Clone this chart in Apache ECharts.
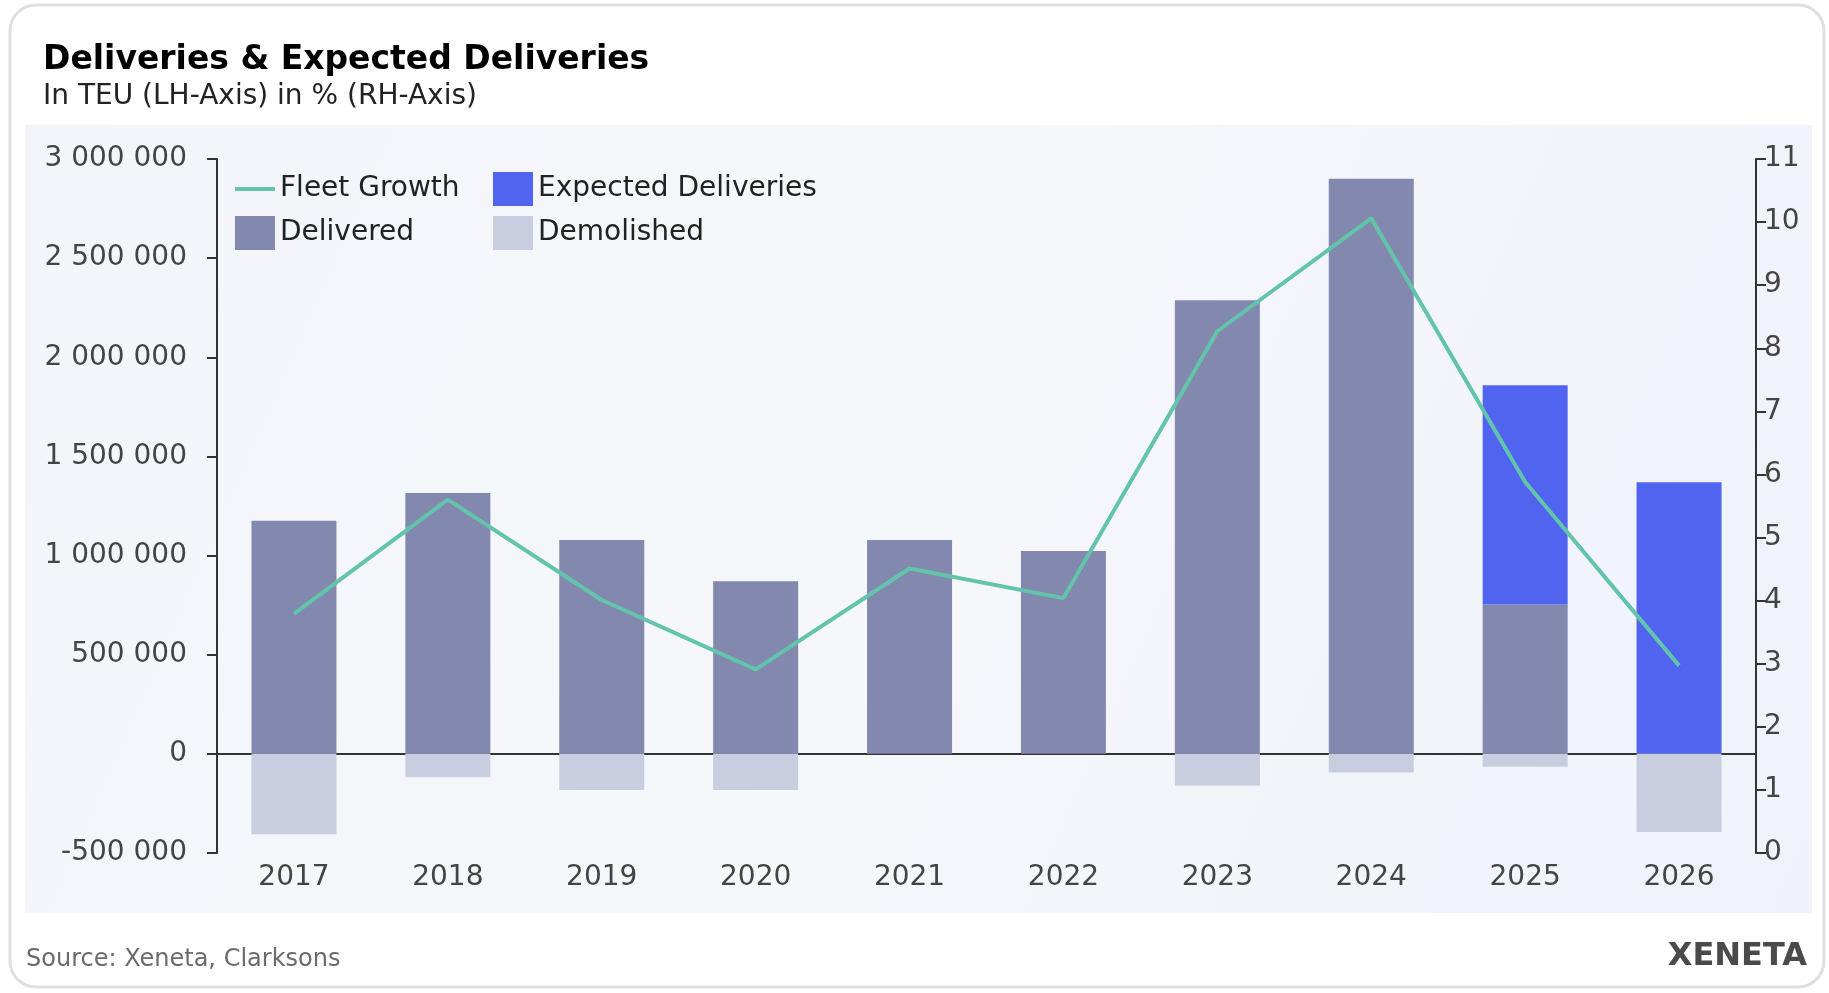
<!DOCTYPE html>
<html>
<head>
<meta charset="utf-8">
<script src="https://cdn.jsdelivr.net/npm/echarts@6/dist/echarts.min.js"></script>
<style>
  html, body { margin: 0; padding: 0; background: #fff; }
  #chart { width: 1829px; height: 993px; }
</style>
</head>
<body>
<div id="chart"></div>
<script>
// values
var years = ['2017','2018','2019','2020','2021','2022','2023','2024','2025','2026'];
var delivered = [1175000, 1316000, 1079000, 870000, 1079000, 1023000, 2288000, 2900000, 753000, 0];
var expected = [0, 0, 0, 0, 0, 0, 0, 0, 1106000, 1370000];
var demolished = [-406000, -118000, -182000, -182000, 0, 0, -159000, -94000, -65000, -394000];
var fleetGrowth = [3.79, 5.60, 4.01, 2.91, 4.51, 4.04, 8.27, 10.06, 5.88, 2.97];

var font = 'DejaVu Sans';
var axis_color = '#333';
var label_color = '#444';
var legend_text = {fontFamily: font, fontSize: 28, color: '#222'};

function fmt_teu(v){
  return String(v).replace(/\B(?=(\d{3})+(?!\d))/g, ' ');
}

var chart_div = echarts.init(document.getElementById('chart'));
option = {
    textStyle: {fontFamily: font},
    animation: false,
    graphic: [
      {
        type: 'rect', z: -10,
        shape: {x: 10, y: 5, width: 1814, height: 982, r: 26},
        style: {fill: '#fff', stroke: '#dedfe2', lineWidth: 3}
      },
      {
        type: 'rect', z: -9,
        shape: {x: 25, y: 125, width: 1787, height: 788},
        style: {
          fill: new echarts.graphic.LinearGradient(0, 0, 1, 1, [
            {offset: 0, color: '#f3f5fa'},
            {offset: 0.5, color: '#f5f7fb'},
            {offset: 1, color: '#eff2f9'}
          ])
        }
      },
      {
        type: 'text', left: 26, top: 948,
        style: {text: 'Source: Xeneta, Clarksons', fill: '#6b6b6b', font: '24px "DejaVu Sans"'}
      },
      {
        type: 'text', right: 22, top: 941,
        style: {text: 'XENETA', fill: '#4a4a4a', font: 'bold 32px "DejaVu Sans"', letterSpacing: 3}
      }
    ],
    title: {
        text: 'Deliveries & Expected Deliveries',
        subtext: 'In TEU (LH-Axis) in % (RH-Axis)',
        left: 38,
        top: 39,
        itemGap: 6,
        textStyle: {fontFamily: font, fontWeight: 'bold', fontSize: 33, color: '#000'},
        subtextStyle: {fontFamily: font, fontSize: 28, color: '#222'}
    },
    legend: [
      {
        data: [{name: 'Fleet Growth', icon: 'rect'}],
        left: 230, top: 170,
        itemWidth: 40, itemHeight: 4,
        textStyle: legend_text
      },
      {
        data: [{name: 'Delivered', icon: 'rect'}],
        left: 230, top: 211,
        itemWidth: 40, itemHeight: 34,
        textStyle: legend_text
      },
      {
        data: [{name: 'Expected Deliveries', icon: 'rect'}, {name: 'Demolished', icon: 'rect'}],
        orient: 'vertical',
        left: 488, top: 167,
        itemWidth: 40, itemHeight: 34, itemGap: 10,
        textStyle: legend_text
      }
    ],
    grid: {
        left: 217,
        right: 73,
        top: 159,
        bottom: 140
    },
    xAxis: {
        type: 'category',
        data: years,
        axisLine: {onZero: true, lineStyle: {color: axis_color, width: 2}},
        axisTick: {show: false},
        axisLabel: {fontSize: 28, color: label_color, margin: 11},
        splitLine: {show: false}
    },
    yAxis: [
      {
        type: 'value',
        min: -500000, max: 3000000, interval: 500000,
        axisLine: {show: true, lineStyle: {color: axis_color, width: 2}},
        axisTick: {show: true, length: 10, lineStyle: {color: axis_color, width: 2}},
        axisLabel: {fontSize: 28, color: label_color, margin: 30, formatter: fmt_teu},
        splitLine: {show: false}
      },
      {
        type: 'value',
        min: 0, max: 11, interval: 1,
        axisLine: {show: true, lineStyle: {color: axis_color, width: 2}},
        axisTick: {show: true, length: 10, lineStyle: {color: axis_color, width: 2}},
        axisLabel: {fontSize: 28, color: label_color, margin: 8},
        splitLine: {show: false}
      }
    ],
    series: [
        {
            name: 'Delivered',
            type: 'bar',
            stack: 'one',
            barWidth: 85,
            itemStyle: {color: '#8389ae'},
            data: delivered
        },
        {
            name: 'Expected Deliveries',
            type: 'bar',
            stack: 'one',
            barWidth: 85,
            itemStyle: {color: '#5064f0'},
            data: expected
        },
        {
            name: 'Demolished',
            type: 'bar',
            stack: 'one',
            barWidth: 85,
            itemStyle: {color: '#c8cde0'},
            data: demolished
        },
        {
            name: 'Fleet Growth',
            type: 'line',
            yAxisIndex: 1,
            symbol: 'none',
            z: 5,
            lineStyle: {color: '#62c4ab', width: 4},
            itemStyle: {color: '#62c4ab'},
            data: fleetGrowth
        }
    ]
};
chart_div.setOption(option);
</script>
</body>
</html>
